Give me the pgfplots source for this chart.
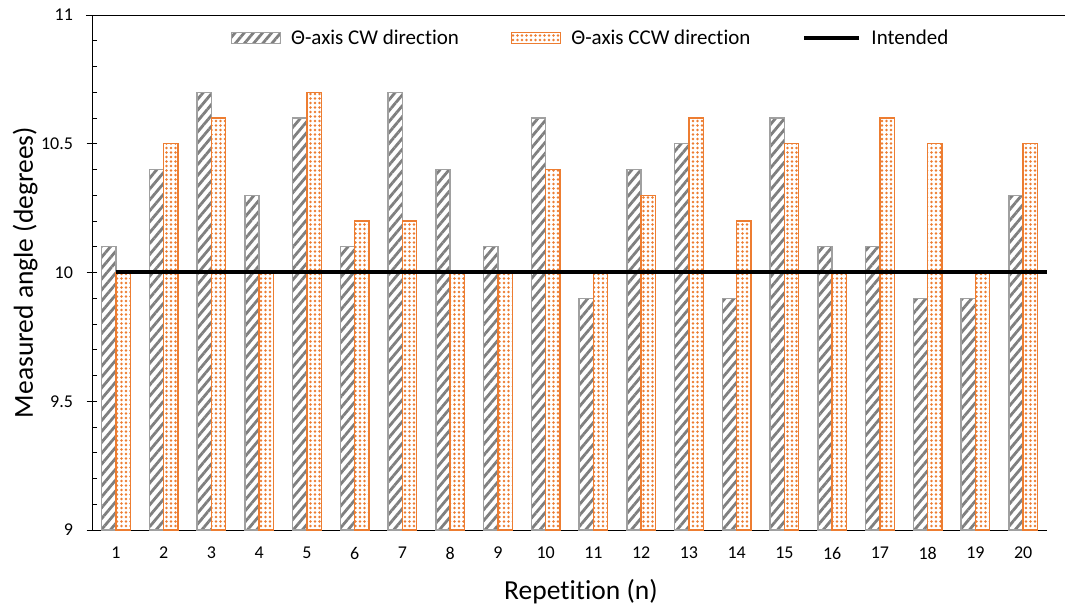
\documentclass[border=0pt]{standalone}
\usepackage{pgfplots}
\pgfplotsset{compat=1.18}
\usepackage{fontspec}
\setmainfont{Carlito}[Ligatures={NoCommon,NoRequired,NoContextual}]
\usetikzlibrary{patterns,patterns.meta}
\definecolor{cworange}{HTML}{ED7D31}
\definecolor{cwgray}{HTML}{7F7F7F}
\definecolor{cwborder}{HTML}{A0A0A0}

\pgfplotsset{
  boxlegend/.style={legend image code/.code={\draw[##1] (0pt,-5.5pt) rectangle (49pt,5.5pt);}},
  linelegend/.style={legend image code/.code={\draw[##1] (0pt,0pt) -- (55pt,0pt);}},
}

\pgfplotstableread{
n cw ccw
1 10.1 10.0
2 10.4 10.5
3 10.7 10.6
4 10.3 10.0
5 10.6 10.7
6 10.1 10.2
7 10.7 10.2
8 10.4 10.0
9 10.1 10.0
10 10.6 10.4
11 9.9 10.0
12 10.4 10.3
13 10.5 10.6
14 9.9 10.2
15 10.6 10.5
16 10.1 10.0
17 10.1 10.6
18 9.9 10.5
19 9.9 10.0
20 10.3 10.5
}\datatable

\begin{document}
\begin{tikzpicture}
\path[use as bounding box] (0,0) rectangle (1065pt,607pt);
\begin{axis}[
  at={(92pt,77pt)}, anchor=south west,
  scale only axis,
  width=955pt, height=515pt,
  xmin=0.5, xmax=20.5,
  ymin=9, ymax=11,
  axis x line*=bottom, axis y line*=left,
  axis line style={black, line width=0.9pt},
  xtick={1,...,20},
  x tick style={draw=none},
  extra x ticks={0.5,1.5,...,20.5},
  extra x tick labels={},
  extra x tick style={tick align=center, major tick length=9pt, tick style={black, line width=0.9pt}},
  ytick={9,9.5,10,10.5,11},
  extra y ticks={9,9.5,10,10.5,11},
  extra y tick labels={},
  extra y tick style={tick align=outside, major tick length=-5pt, tick style={black, line width=0.9pt}},
  minor y tick num=4,
  tick align=outside,
  major tick length=5.5pt,
  minor tick length=-5pt,
  tick style={black, line width=0.9pt},
  /pgf/number format/assume math mode=true,
  ticklabel style={font=\fontsize{18pt}{21pt}\selectfont},
  xticklabel style={yshift=-8pt},
  yticklabel style={xshift=-10pt},
  xlabel={Repetition (n)},
  ylabel={Measured angle (degrees)},
  every axis x label/.style={at={(rel axis cs:0.512,-0.134)}, anchor=base},
  every axis y label/.style={at={(rel axis cs:-0.0618,0.5)}, rotate=90, anchor=base},
  label style={font=\fontsize{27.5pt}{32pt}\selectfont},
  legend style={draw=none, fill=none, at={(0.521,0.955)}, anchor=center,
    legend columns=3, font=\fontsize{21pt}{24pt}\selectfont,
    nodes={inner sep=0pt},
    /tikz/every odd column/.append style={column sep=10pt},
    /tikz/every even column/.append style={column sep=52pt},
    inner sep=0pt, outer sep=0pt},
  clip=false,
]
\addplot[ybar, bar width=0.3, bar shift=-0.15, draw=cwborder, line width=1.4pt,
  preaction={fill=white}, preaction={pattern={Lines[angle=50,distance=7pt,line width=2.8pt]}, pattern color=cwgray},
  boxlegend]
  table[x=n,y=cw]{\datatable};
\addlegendentry{Θ-axis CW direction}
\addplot[ybar, bar width=0.3, bar shift=0.15, draw=cworange, line width=1.4pt,
  preaction={fill=white}, preaction={pattern={Dots[distance=4.5pt,radius=1.3pt]}, pattern color=cworange},
  boxlegend]
  table[x=n,y=ccw]{\datatable};
\addlegendentry{Θ-axis CCW direction}
\addplot[black, line width=4pt, sharp plot, mark=none, linelegend]
  coordinates {(1,10) (20.5,10)};
\addlegendentry{Intended}
\draw[black, line width=0.9pt] (rel axis cs:-0.0063,1) -- (rel axis cs:1.0188,1);
\end{axis}
\end{tikzpicture}
\end{document}
